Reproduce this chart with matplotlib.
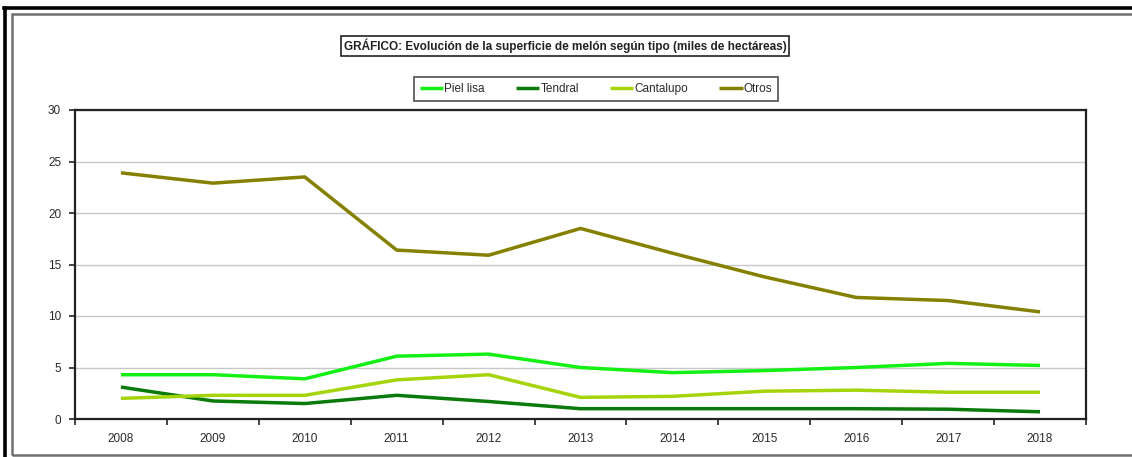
import matplotlib
matplotlib.use("Agg")
import matplotlib.pyplot as plt
from matplotlib.lines import Line2D
from matplotlib.patches import Rectangle

plt.rcParams['font.family'] = ['Liberation Sans', 'DejaVu Sans']

years = ["2008", "2009", "2010", "2011", "2012", "2013", "2014", "2015", "2016", "2017", "2018"]
piel_lisa = [4.3, 4.3, 3.9, 6.1, 6.3, 5.0, 4.5, 4.7, 5.0, 5.4, 5.2]
tendral = [3.1, 1.75, 1.5, 2.3, 1.7, 1.0, 1.0, 1.0, 1.0, 0.95, 0.7]
cantalupo = [2.0, 2.3, 2.3, 3.8, 4.3, 2.1, 2.2, 2.7, 2.8, 2.6, 2.6]
otros = [23.9, 22.9, 23.5, 16.4, 15.9, 18.5, 16.1, 13.8, 11.8, 11.5, 10.4]

series_names = ["Piel lisa", "Tendral", "Cantalupo", "Otros"]
series_values = [piel_lisa, tendral, cantalupo, otros]
series_colors = ["#14f014", "#0a7a0a", "#a6d40a", "#858000"]

title = "GRÁFICO: Evolución de la superficie de melón según tipo (miles de hectáreas)"

W, H = 1132, 457
fig = plt.figure(figsize=(W / 100, H / 100), dpi=100)

def fx(px):
    return px / W

def fy(py):
    return 1 - py / H

# page frame: thick black outer rule and gray inner border
fig.add_artist(Line2D([fx(4), 1], [fy(8), fy(8)], color="black", lw=2.6, transform=fig.transFigure))
fig.add_artist(Line2D([fx(5), fx(5)], [fy(8), 0], color="black", lw=2.6, transform=fig.transFigure))
fig.add_artist(Rectangle((fx(12), fy(455)), 1.0, fy(14) - fy(455), fill=False,
                         edgecolor="#707070", lw=1.8, transform=fig.transFigure))

ax = fig.add_axes([fx(75), fy(419), fx(1086) - fx(75), fy(110) - fy(419)])
x = list(range(len(years)))
handles = []
for name, vals, col in zip(series_names, series_values, series_colors):
    h, = ax.plot(x, vals, color=col, lw=2.5, label=name, solid_capstyle="butt", solid_joinstyle="round")
    handles.append(h)

ax.set_xlim(-0.5, len(years) - 0.5)
ax.set_ylim(0, 30)
ax.set_yticks(range(0, 31, 5))
ax.set_xticks(x)
ax.set_xticklabels(years)
ax.set_xticks([i - 0.5 for i in range(len(years) + 1)], minor=True)
ax.tick_params(axis="x", which="major", length=0, pad=10, labelsize=8.5, labelcolor="#2a2a2a")
ax.tick_params(axis="x", which="minor", length=4, width=1.2, direction="out", color="#222222")
ax.tick_params(axis="y", length=4, width=1.2, direction="out", pad=6, labelsize=8.5,
               labelcolor="#2a2a2a", color="#222222")
ax.grid(axis="y", color="#c8c8c8", lw=1.0)
ax.set_axisbelow(True)
for s in ax.spines.values():
    s.set_color("#222222")
    s.set_linewidth(1.6)

fig.text(fx(565), fy(46), title, ha="center", va="center", fontsize=8.5, fontweight="bold",
         color="#222222",
         bbox=dict(boxstyle="square,pad=0.22", facecolor="white", edgecolor="#222222", lw=1.2))

leg = fig.legend(handles=handles, loc="center", bbox_to_anchor=(fx(596), fy(89)), ncol=4,
                 fontsize=8.5, frameon=True, fancybox=False, handlelength=2.0, handletextpad=0.1,
                 columnspacing=2.6, borderpad=0.5)
leg.get_frame().set_edgecolor("#222222")
leg.get_frame().set_linewidth(1.2)
for t in leg.get_texts():
    t.set_color("#2a2a2a")

fig.savefig("out.png", dpi=100)
